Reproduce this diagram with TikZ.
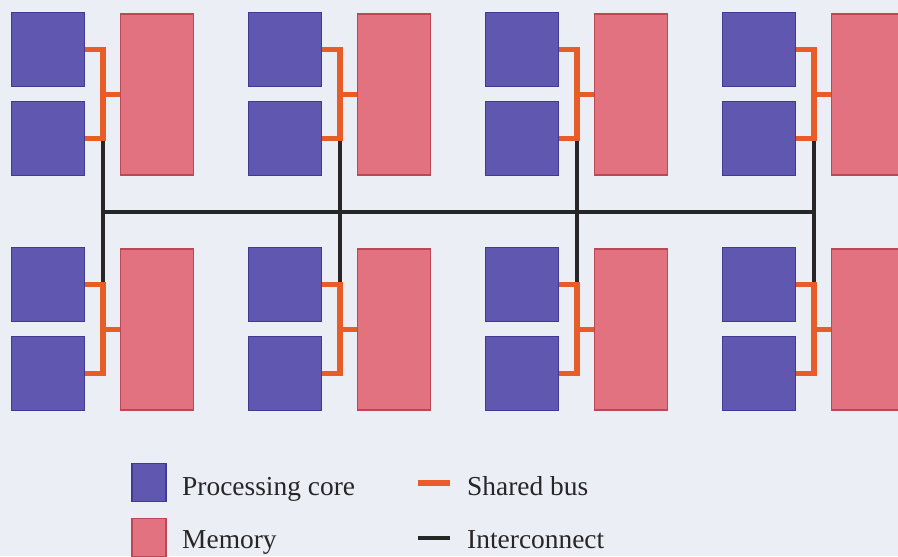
\documentclass[tikz,border=0pt]{standalone}
\usepackage{fontspec}
\setmainfont{Liberation Serif}
\usetikzlibrary{positioning}

\definecolor{corefill}{RGB}{96,88,176}
\definecolor{coreedge}{RGB}{64,58,150}
\definecolor{memfill}{RGB}{226,114,128}
\definecolor{memedge}{RGB}{188,72,86}
\definecolor{busorange}{RGB}{232,92,40}
\definecolor{paper}{RGB}{236,238,246}

\tikzset{
	core/.style={draw=coreedge, fill=corefill, line width=1.1pt, minimum width=2.2cm, minimum height=2.2cm, inner sep=0pt},
	memory/.style={draw=memedge, fill=memfill, line width=1.1pt, minimum width=2.2cm, minimum height=4.83cm, inner sep=0pt},
	keybox/.style={line width=1.1pt, minimum width=1.02cm, minimum height=1.15cm, inner sep=0pt},
	bus/.style={busorange, line width=4.3pt},
	link/.style={black!85, line width=2.9pt},
	keytext/.style={text=black!85, font=\fontsize{23.4}{28}\selectfont, anchor=base west, inner sep=0pt}
}

\begin{document}
\begin{tikzpicture}[x=0.03cm, y=-0.03cm]
	\fill[paper] (0,0) rectangle (898,556);
	\useasboundingbox (0,0) rectangle (898,556);
	\begin{scope}
	\clip (0,0) rectangle (898,556);
	
	% cores, memory and shared bus of each node
	\foreach \c in {0,...,3}{
		\foreach \r in {0,1}{
			\pgfmathsetmacro{\gx}{237*\c}
			\pgfmathsetmacro{\gy}{235*\r}
			\node[core] (core-\c-\r-a) at (\gx+48,\gy+49.5) {};
			\node[core] (core-\c-\r-b) at (\gx+48,\gy+138.5) {};
			\node[memory] (mem-\c-\r) at (\gx+157,\gy+94.5) {};
			\coordinate (spine-\c-\r) at (\gx+103,\gy+94.5);
		}
		\coordinate (hub-\c) at (237*\c+103,212);
		\draw[link] (spine-\c-0 |- core-\c-0-b.east) -- (hub-\c) -- (spine-\c-1 |- core-\c-1-a.east);
		\foreach \r in {0,1}{
			\draw[bus] (core-\c-\r-a.east) -| (spine-\c-\r) |- (core-\c-\r-b.east);
			\draw[bus] (spine-\c-\r) -- (mem-\c-\r.west);
		}
	}
	\draw[link] (hub-0) -- (hub-3);
	
	% key
	\node[keybox, draw=coreedge, fill=corefill] (key-core) at (149,482.5) {};
	\node[keybox, draw=memedge, fill=memfill] (key-mem) at (149,537.5) {};
	\node[keytext] (lbl-core) at (182,495) {Processing core};
	\node[keytext] (lbl-mem) at (182,548) {Memory};
	\coordinate (key-bus-a) at (418,483);
	\coordinate (key-bus-b) at (450,483);
	\coordinate (key-link-a) at (418,538);
	\coordinate (key-link-b) at (450,538);
	\draw[bus] (key-bus-a) -- (key-bus-b);
	\draw[link] (key-link-a) -- (key-link-b);
	\node[keytext] (lbl-bus) at (467,495) {Shared bus};
	\node[keytext] (lbl-link) at (467,548) {Interconnect};
	\end{scope}
\end{tikzpicture}
\end{document}
